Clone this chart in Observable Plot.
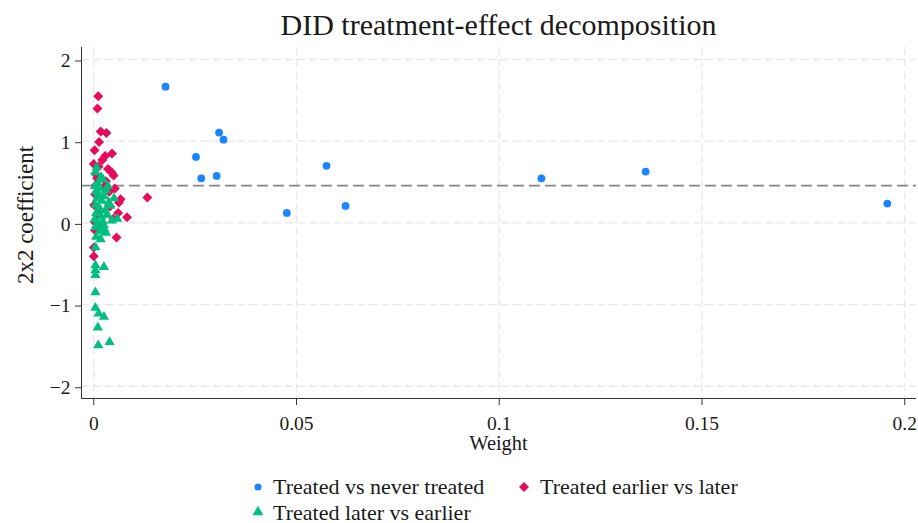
<!DOCTYPE html>
<html>
<head>
<meta charset="utf-8">
<script src="https://cdn.jsdelivr.net/npm/d3@7"></script>
<script src="https://cdn.jsdelivr.net/npm/@observablehq/plot@0.6"></script>
<style>
  html, body { margin: 0; padding: 0; background: #fff; }
  body { width: 918px; height: 523px; position: relative; overflow: hidden;
         font-family: "Liberation Serif", "DejaVu Serif", serif; color: #1a1a1a; }
  #title { position: absolute; left: 0; top: 10px; width: 997px; text-align: center;
           font-size: 30px; line-height: 30px; white-space: nowrap; }
  #chart { position: absolute; left: 0; top: 40px; }
  #chart svg, #chart svg text { font-family: "Liberation Serif", "DejaVu Serif", serif !important; }
  #ylab { position: absolute; width: 200px; height: 24px; line-height: 24px; font-size: 23px;
          text-align: center; left: -74.4px; top: 203px; transform: rotate(-90deg);
          transform-origin: 50% 50%; white-space: nowrap; }
  #xlab { position: absolute; left: 0; width: 997px; top: 438px; text-align: center;
          font-size: 20.4px; line-height: 10px; height: 10px; }
  .leg { position: absolute; font-size: 22px; line-height: 22px; white-space: nowrap; }
  .sym { position: absolute; }
</style>
</head>
<body>
<div id="title">DID treatment-effect decomposition</div>
<div id="chart"></div>
<div id="ylab">2x2 coefficient</div>
<div id="xlab">Weight</div>
<div id="legend"></div>
<script>
// ---- data ----
const seriesNames = ["Treated vs never treated", "Treated earlier vs later", "Treated later vs earlier"];
const seriesColors = ["#1a85ff", "#ea0a5c", "#00bf7f"];

const neverW = [0.0177, 0.0309, 0.0320, 0.0252, 0.0265, 0.0303, 0.0476, 0.0574, 0.0621, 0.1104, 0.1361, 0.1957];
const neverB = [1.668, 1.105, 1.019, 0.808, 0.546, 0.575, 0.122, 0.698, 0.208, 0.546, 0.628, 0.236];

const earlierW = [0.0011, 0.0009, 0.0017, 0.0031, 0.0013, 0.0002, 0.0045, 0.0028, 0.0021, 0.0000,
                  0.0012, 0.0035, 0.0044, 0.0004, 0.0049, 0.0008, 0.0030, 0.0005, 0.0025, 0.0052,
                  0.0038, 0.0003, 0.0015, 0.0066, 0.0132, 0.0062, 0.0001, 0.0040, 0.0060, 0.0010,
                  0.0082, 0.0048, 0.0002, 0.0020, 0.0003, 0.0056, 0.0000, 0.0000];
const earlierB = [1.55, 1.40, 1.12, 1.10, 0.99, 0.89, 0.85, 0.82, 0.77, 0.72,
                  0.69, 0.66, 0.62, 0.60, 0.58, 0.55, 0.51, 0.46, 0.44, 0.42,
                  0.38, 0.35, 0.30, 0.29, 0.31, 0.25, 0.22, 0.20, 0.12, 0.11,
                  0.07, 0.05, 0.01, -0.05, -0.09, -0.18, -0.30, -0.41];

const laterW = [0.0007, 0.0004, 0.0018, 0.0023, 0.0010, 0.0003, 0.0015, 0.0030, 0.0005, 0.0012,
                0.0025, 0.0008, 0.0037, 0.0020, 0.0004, 0.0041, 0.0014, 0.0028, 0.0006, 0.0033,
                0.0018, 0.0058, 0.0002, 0.0045, 0.0010, 0.0025, 0.0004, 0.0025, 0.0015, 0.0030,
                0.0017, 0.0006, 0.0004, 0.0004, 0.0025, 0.0004, 0.0004, 0.0004, 0.0004, 0.0012,
                0.0025, 0.0010, 0.0039, 0.0011, 0.0050, 0.0035, 0.0022];
const laterB = [0.68, 0.62, 0.56, 0.53, 0.48, 0.45, 0.42, 0.40, 0.38, 0.35,
                0.33, 0.30, 0.25, 0.27, 0.22, 0.21, 0.18, 0.15, 0.12, 0.10,
                0.08, 0.05, 0.04, 0.03, 0.00, -0.03, -0.05, -0.07, -0.10, -0.12,
                -0.20, -0.17, -0.30, -0.52, -0.54, -0.58, -0.64, -0.85, -1.04, -1.11,
                -1.15, -1.28, -1.46, -1.50, 0.30, 0.45, 0.02];

const overallEffect = 0.455;
const xTicks = [0, 0.05, 0.1, 0.15, 0.2];
const xTickLabels = ["0", "0.05", "0.1", "0.15", "0.2"];
const yTicks = [-2, -1, 0, 1, 2];
const yTickLabels = ["\u22122", "\u22121", "0", "1", "2"];
const xDomain = [-0.00303, 0.2029];
const yDomain = [-2.15, 2.147];

// ---- tables ----
const never = neverW.map((w, i) => ({w, b: neverB[i]}));
const earlier = earlierW.map((w, i) => ({w, b: earlierB[i]}));
const later = laterW.map((w, i) => ({w, b: laterB[i]}));

const serif = "Liberation Serif";
const gridColor = "#e8e8e8";
const chart = Plot.plot({
  width: 918,
  height: 418,
  marginLeft: 81,
  marginRight: 2,
  marginTop: 7,
  marginBottom: 60,
  style: {fontFamily: serif, fontSize: "19.5px", color: "#1a1a1a", background: "white"},
  x: {domain: xDomain},
  y: {domain: yDomain},
  marks: [
    Plot.ruleY(yTicks, {stroke: gridColor, strokeWidth: 1.3, strokeDasharray: "8,4"}),
    Plot.ruleX(xTicks, {stroke: gridColor, strokeWidth: 1.3, strokeDasharray: "8,4"}),
    Plot.ruleY([overallEffect], {stroke: "#858585", strokeWidth: 1.8, strokeDasharray: "11,5"}),
    Plot.ruleX([xDomain[0]], {stroke: "#333"}),
    Plot.ruleY([yDomain[0]], {stroke: "#333"}),
    Plot.axisY({ticks: yTicks, tickFormat: (d) => yTickLabels[yTicks.indexOf(d)], tickSize: 6, tickPadding: 5,
                label: null, fontSize: 19.5, fontFamily: serif, dy: 1.5, stroke: "#333"}),
    Plot.axisX({ticks: xTicks, tickFormat: (d) => xTickLabels[xTicks.indexOf(d)], tickSize: 7, tickPadding: 10.5,
                label: null, fontSize: 19.5, fontFamily: serif, stroke: "#333"}),
    Plot.dot(never, {x: "w", y: "b", symbol: "circle", r: 3.9, fill: seriesColors[0], stroke: "none"}),
    Plot.dot(earlier, {x: "w", y: "b", symbol: "diamond2", r: 4.5, fill: seriesColors[1], stroke: "none"}),
    Plot.dot(later, {x: "w", y: "b", symbol: "triangle", r: 3.8, fill: seriesColors[2], stroke: "none"})
  ]
});
document.getElementById("chart").appendChild(chart);

// ---- legend ----
const legendPos = [
  {sx: 258, sy: 487, tx: 273, ty: 475.6},
  {sx: 524, sy: 487, tx: 540, ty: 475.6},
  {sx: 258, sy: 512, tx: 273, ty: 501.6}
];
const legendSymbols = [d3.symbolCircle, d3.symbolDiamond2, d3.symbolTriangle];
const legendSizes = [40, 64, 51];
const legend = document.getElementById("legend");
seriesNames.forEach((name, i) => {
  const p = legendPos[i];
  const s = d3.create("svg").attr("class", "sym").attr("width", 14).attr("height", 14)
    .style("left", (p.sx - 7) + "px").style("top", (p.sy - 7) + "px");
  s.append("path").attr("transform", "translate(7,7)")
    .attr("d", d3.symbol(legendSymbols[i], legendSizes[i])())
    .attr("fill", seriesColors[i]);
  legend.appendChild(s.node());
  const t = document.createElement("div");
  t.className = "leg";
  t.style.left = p.tx + "px";
  t.style.top = p.ty + "px";
  t.textContent = name;
  legend.appendChild(t);
});
</script>
</body>
</html>
